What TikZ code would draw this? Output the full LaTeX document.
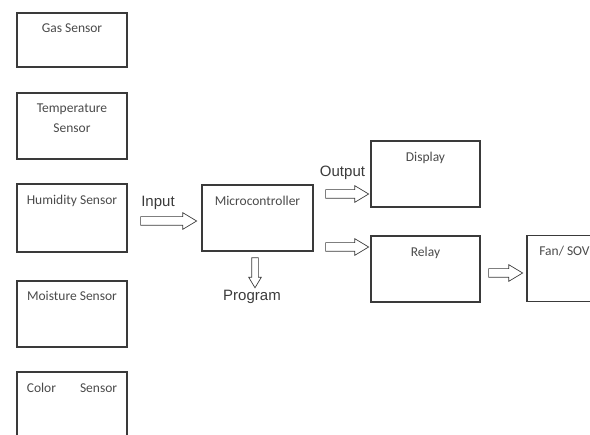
\documentclass[tikz,border=0pt]{standalone}
\usepackage{fontspec}
\usetikzlibrary{shapes.arrows,positioning}
\newfontfamily\boxfont{Carlito}
\newfontfamily\flowfont{Liberation Sans}
\definecolor{boxline}{HTML}{3A3A3A}
\definecolor{boxtext}{HTML}{4A4A4A}
\tikzset{
  unitbox/.style={draw=boxline, line width=1.1pt, minimum width=110pt,
                  minimum height=66pt, inner sep=0pt},
  boxlabel/.style={anchor=north, yshift=-9pt, inner sep=2pt, align=center,
                   font=\boxfont\fontsize{13.5}{20}\selectfont, text=boxtext},
  blockarrow/.style={single arrow, draw=boxline, line width=0.7pt, minimum width=16pt,
                     single arrow head extend=4pt, single arrow tip angle=62,
                     inner sep=4pt, shape border rotate=#1},
  blockarrow/.default=0,
  flowlabel/.style={font=\flowfont\fontsize{15}{18}\selectfont, text=boxline, inner sep=1pt},
}
\begin{document}
\begin{tikzpicture}[x=1pt, y=-1pt]
    \clip (0,0) rectangle (590,435);
    \node[unitbox, minimum height=54pt, label={[boxlabel]north:Gas Sensor}] (gas) at (72,40) {};
    \node[unitbox, label={[boxlabel]north:Temperature\\Sensor}] (temp) at (72,126) {};
    \node[unitbox, minimum height=68pt, label={[boxlabel]north:Humidity Sensor}] (humid) at (72,218) {};
    \node[unitbox, label={[boxlabel]north:Moisture Sensor}] (moist) at (72,314) {};
    \node[unitbox, label={[boxlabel]north:Color\hspace{24pt}Sensor}] (color) at (72,405) {};
    \node[unitbox, minimum width=111pt, label={[boxlabel]north:Microcontroller}] (mcu) at (257.5,218) {};
    \node[unitbox, minimum width=109pt, label={[boxlabel]north:Display}] (disp) at (425.5,174) {};
    \node[unitbox, minimum width=109pt, label={[boxlabel]north:Relay}] (relay) at (425.5,269) {};
    \node[unitbox, minimum width=109pt, label={[boxlabel, xshift=-17pt]north:Fan/ SOV}] (fan) at (581.5,268.5) {};
    \node[blockarrow, minimum height=56pt] (inarr) at (165,221) {};
    \node[blockarrow, minimum height=43pt] (outarr) at (343.5,194) {};
    \node[blockarrow, minimum height=43pt] (relarr) at (343.5,247) {};
    \node[blockarrow, minimum height=34pt] (fanarr) at (502,273) {};
    \node[blockarrow=270, minimum height=30pt, minimum width=12pt, inner sep=3pt,
          single arrow head extend=3pt] (prgarr) at (255,270) {};
    \node[flowlabel, above=5pt of inarr, xshift=-7pt] {Input};
    \node[flowlabel, above=8pt of outarr, xshift=-1pt] {Output};
    \node[flowlabel, below=1pt of prgarr, xshift=-3pt] {Program};
\end{tikzpicture}
\end{document}
